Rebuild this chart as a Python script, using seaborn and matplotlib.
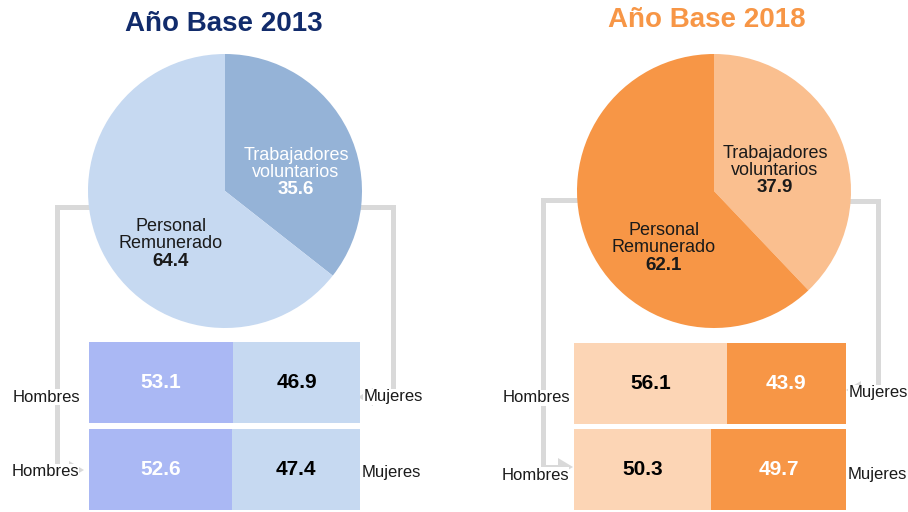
import matplotlib
matplotlib.use("Agg")
import matplotlib.pyplot as plt
from matplotlib.patches import Polygon
import pandas as pd
import seaborn as sns

sns.set_theme(style="white")
plt.rcParams["font.family"] = ["Liberation Sans", "DejaVu Sans"]

W, H = 908, 512

# Pie slices: drawn clockwise from 12 o'clock
pie_names = ["Trabajadores\nvoluntarios", "Personal\nRemunerado"]
pie_2013 = [35.6, 64.4]
pie_2018 = [37.9, 62.1]

# Split by sex for each group (top row: voluntarios, bottom row: remunerado)
rows = ["Trabajadores voluntarios", "Personal Remunerado"]
hombres_2013 = [53.1, 52.6]
mujeres_2013 = [46.9, 47.4]
hombres_2018 = [56.1, 50.3]
mujeres_2018 = [43.9, 49.7]

titles = ["Año Base 2013", "Año Base 2018"]

GRAY = "#D9D9D9"
NARROW = ["Liberation Sans Narrow", "Liberation Sans", "DejaVu Sans"]

panels = [
    dict(title=titles[0], title_color="#112B6B", title_xy=(224, 24),
         pie=pie_2013, pie_colors=["#95B3D7", "#C6D9F1"], center=(225, 191), radius=137,
         vol_xy=(296, 164), vol_val_y=190, vol_color="white",
         rem_xy=(171, 235), rem_val_y=261, rem_color="#1A1A1A",
         hombres=hombres_2013, mujeres=mujeres_2013,
         bar_colors=("#AAB8F4", "#C6D9F1"), bar_txt=("white", "black"),
         bar_px=(89, 360, 342, 510),
         lab_h=[(46, 397), (45, 472)], lab_m=[(393, 397), (391, 472)],
         path_l=[(95, 207), (57, 207), (57, 470), (70, 470)], tip_l=(84, 470),
         path_r=[(355, 207), (393, 207), (393, 397), (373, 397)], tip_r=(358, 397)),
    dict(title=titles[1], title_color="#F79646", title_xy=(707, 20),
         pie=pie_2018, pie_colors=["#FABF8F", "#F79646"], center=(714, 191), radius=137,
         vol_xy=(775, 162), vol_val_y=188, vol_color="#1A1A1A",
         rem_xy=(664, 239), rem_val_y=265, rem_color="#1A1A1A",
         hombres=hombres_2018, mujeres=mujeres_2018,
         bar_colors=("#FCD5B5", "#F79646"), bar_txt=("black", "white"),
         bar_px=(574, 846, 343, 510),
         lab_h=[(536, 398), (535, 475)], lab_m=[(878, 393), (877, 475)],
         path_l=[(585, 200), (543, 200), (543, 467), (559, 467)], tip_l=(573, 467),
         path_r=[(845, 201), (878, 201), (878, 390), (861, 390)], tip_r=(846, 390)),
]

fig = plt.figure(figsize=(W / 100, H / 100), dpi=100)
fig.patch.set_facecolor("white")
ax = fig.add_axes([0, 0, 1, 1])


def arrow_head(tip, direction, length=15, half=9):
    x, y = tip
    base = x - direction * length
    return Polygon([(x, y), (base, y - half), (base, y + half)], closed=True,
                   facecolor=GRAY, edgecolor="none", zorder=0)


for p in panels:
    # connectors from the pie down to the bars
    for path, tip, d in ((p["path_l"], p["tip_l"], 1), (p["path_r"], p["tip_r"], -1)):
        xs, ys = zip(*path)
        ax.plot(xs, ys, color=GRAY, lw=3.6, solid_joinstyle="miter",
                solid_capstyle="butt", zorder=0)
        ax.add_patch(arrow_head(tip, d))

    # pie (y axis runs downward, so angles are mirrored)
    ax.pie(p["pie"], colors=p["pie_colors"], startangle=-90, counterclock=True,
           center=p["center"], radius=p["radius"],
           wedgeprops=dict(linewidth=0, zorder=1))

    ax.text(*p["title_xy"], p["title"], ha="center", va="center", fontsize=20,
            fontweight="bold", color=p["title_color"])

    # slice labels
    ax.text(*p["vol_xy"], pie_names[0], ha="center", va="center", fontsize=13,
            family=NARROW, color=p["vol_color"], linespacing=1.0, zorder=4)
    ax.text(p["vol_xy"][0], p["vol_val_y"], f"{p['pie'][0]:.1f}", ha="center",
            va="center", fontsize=13.5, fontweight="bold", family=NARROW,
            color=p["vol_color"], zorder=4)
    ax.text(*p["rem_xy"], pie_names[1], ha="center", va="center", fontsize=13,
            family=NARROW, color=p["rem_color"], linespacing=1.0, zorder=4)
    ax.text(p["rem_xy"][0], p["rem_val_y"], f"{p['pie'][1]:.1f}", ha="center",
            va="center", fontsize=13.5, fontweight="bold", family=NARROW,
            color=p["rem_color"], zorder=4)

    # sex labels beside each bar row
    for (x, y) in p["lab_h"]:
        ax.text(x, y, "Hombres", ha="center", va="center", fontsize=12,
                color="#1A1A1A", zorder=5,
                bbox=dict(facecolor="white", edgecolor="none", pad=0.5))
    for (x, y) in p["lab_m"]:
        ax.text(x, y, "Mujeres", ha="center", va="center", fontsize=12,
                color="#1A1A1A", zorder=5,
                bbox=dict(facecolor="white", edgecolor="none", pad=0.5))

ax.set_xlim(0, W)
ax.set_ylim(H, 0)
ax.set_aspect("auto")
ax.axis("off")

# stacked horizontal bars, one axes per panel
for p in panels:
    x0, x1, y0, y1 = p["bar_px"]
    bax = fig.add_axes([x0 / W, 1 - y1 / H, (x1 - x0) / W, (y1 - y0) / H])
    df = pd.DataFrame({"fila": rows, "Hombres": p["hombres"], "Mujeres": p["mujeres"]})
    df["Total"] = df["Hombres"] + df["Mujeres"]
    c_h, c_m = p["bar_colors"]
    sns.barplot(data=df, x="Total", y="fila", orient="h", color=c_m, saturation=1,
                width=0.931, linewidth=0, ax=bax)
    sns.barplot(data=df, x="Hombres", y="fila", orient="h", color=c_h, saturation=1,
                width=0.931, linewidth=0, ax=bax)
    bax.set_xlim(0, 100)
    bax.set_ylim(1.4655, -0.4655)
    bax.axis("off")
    t_h, t_m = p["bar_txt"]
    for i, (h, m) in enumerate(zip(df["Hombres"], df["Mujeres"])):
        bax.text(h / 2, i, f"{h:.1f}", ha="center", va="center", fontsize=15,
                 fontweight="bold", color=t_h)
        bax.text(h + m / 2, i, f"{m:.1f}", ha="center", va="center", fontsize=15,
                 fontweight="bold", color=t_m)

fig.savefig("out.png", dpi=100, facecolor="white")
